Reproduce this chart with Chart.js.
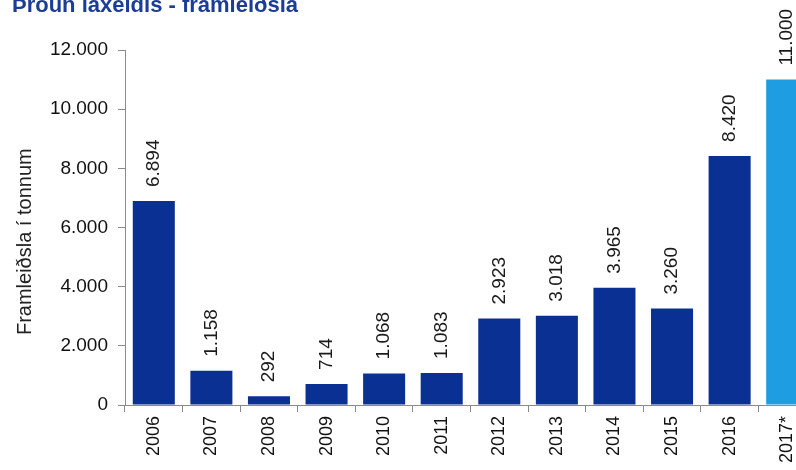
<!DOCTYPE html>
<html>
<head>
<meta charset="utf-8">
<script src="https://cdn.jsdelivr.net/npm/chart.js@4.4.0/dist/chart.umd.min.js"></script>
<style>
  html, body { margin: 0; padding: 0; background: #fff; overflow: hidden; width: 796px; height: 470px; }
  #wrap { position: relative; width: 818px; height: 470px; }
  #title { position: absolute; left: 12px; top: -8px; font: bold 22px "Liberation Sans", Arial, sans-serif; color: #1b3d96; white-space: nowrap; z-index: 2; }
</style>
</head>
<body>
<div id="wrap">
  <div id="title">Þróun laxeldis - framleiðsla</div>
  <canvas id="laxChart" width="818" height="470"></canvas>
</div>
<script>
// Production of farmed salmon, tonnes
const years = ["2006","2007","2008","2009","2010","2011","2012","2013","2014","2015","2016","2017*"];
const tonnes = [6894, 1158, 292, 714, 1068, 1083, 2923, 3018, 3965, 3260, 8420, 11000];
const yTicks = [0, 2000, 4000, 6000, 8000, 10000, 12000];
const yTitle = 'Framleiðsla í tonnum';

const darkBlue = '#0b3094';
const lightBlue = '#1e9de2';
const font = '"Liberation Sans", Arial, sans-serif';

// thousands with a dot, like 12.000
const fmt = v => String(v).replace(/\B(?=(\d{3})+(?!\d))/g, '.');

// value labels, rotated, above each bar + the y axis title
const barLabels = {
  id: 'barLabels',
  afterDatasetsDraw(chart) {
    const ctx = chart.ctx;
    const meta = chart.getDatasetMeta(0);
    ctx.save();
    ctx.font = '19px ' + font;
    ctx.fillStyle = '#1a1a1a';
    ctx.textAlign = 'left';
    ctx.textBaseline = 'middle';
    meta.data.forEach((bar, i) => {
      ctx.save();
      ctx.translate(bar.x, bar.y - 14);
      ctx.rotate(-Math.PI / 2);
      ctx.fillText(fmt(tonnes[i]), 0, 0);
      ctx.restore();
    });
    // axis title sits a bit below the middle of the axis in the original
    ctx.font = '20px ' + font;
    ctx.fillStyle = '#222';
    ctx.textAlign = 'center';
    ctx.translate(25, chart.chartArea.top + (chart.chartArea.bottom - chart.chartArea.top) * 0.54);
    ctx.rotate(-Math.PI / 2);
    ctx.fillText(yTitle, 0, 0);
    ctx.restore();
  }
};

const ctx = document.getElementById('laxChart').getContext('2d');
new Chart(ctx, {
  type: 'bar',
  data: {
    labels: years,
    datasets: [{
      data: tonnes,
      backgroundColor: tonnes.map((v, i) => i === tonnes.length - 1 ? lightBlue : darkBlue),
      barPercentage: 0.73,
      categoryPercentage: 1
    }]
  },
  options: {
    responsive: false,
    animation: false,
    layout: { padding: { top: 50, left: 0, right: 2, bottom: 0 } },
    plugins: { legend: { display: false }, tooltip: { enabled: false }, title: { display: false } },
    scales: {
      x: {
        grid: { drawOnChartArea: false, offset: true, tickLength: 7, color: '#8a8a8a' },
        border: { color: '#8a8a8a' },
        ticks: { minRotation: 90, maxRotation: 90, padding: 4, color: '#111',
                 font: { family: font, size: 18 } },
        afterFit: s => { s.height = 65; }
      },
      y: {
        min: 0, max: 12000,
        afterBuildTicks: s => { s.ticks = yTicks.map(v => ({ value: v })); },
        grid: { drawOnChartArea: false, tickLength: 7, color: '#8a8a8a' },
        border: { color: '#8a8a8a' },
        ticks: { padding: 10, color: '#111', callback: v => fmt(v),
                 font: { family: font, size: 19 } },
        afterFit: s => { s.width = 125; }
      }
    }
  },
  plugins: [barLabels]
});
</script>
</body>
</html>
